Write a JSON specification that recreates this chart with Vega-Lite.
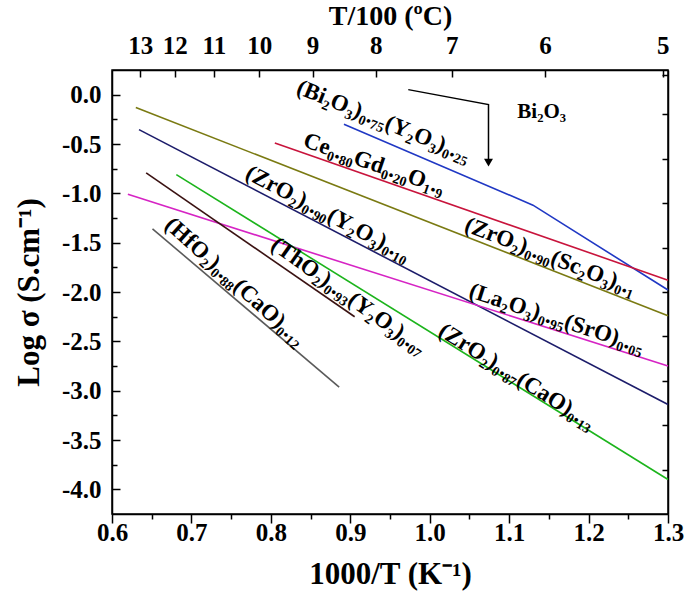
{
  "$schema": "https://vega.github.io/schema/vega-lite/v6.json",
  "width": 556,
  "height": 444,
  "autosize": {"type": "none"},
  "padding": {"left": 112, "top": 70, "right": 17, "bottom": 93},
  "background": "white",
  "config": {
    "view": {"stroke": "black", "strokeWidth": 1.5},
    "axis": {
      "labelFont": "Liberation Serif", "labelFontWeight": "bold", "labelFontSize": 25, "labelColor": "black",
      "titleFont": "Liberation Serif", "titleFontWeight": "bold", "titleFontSize": 31, "titleColor": "black",
      "domainColor": "black", "domainWidth": 1.5, "tickColor": "black", "tickWidth": 1.5, "grid": false
    },
    "text": {"font": "Liberation Serif", "fontWeight": "bold", "fontSize": 23, "color": "black"}
  },
  "datasets": {
    "lines": [
      {"s": "BiY", "o": 1, "x": 0.892, "y": -0.30},
      {"s": "BiY", "o": 2, "x": 1.13, "y": -1.12},
      {"s": "BiY", "o": 3, "x": 1.30, "y": -1.98},
      {"s": "CeGd", "o": 1, "x": 0.805, "y": -0.49},
      {"s": "CeGd", "o": 2, "x": 1.30, "y": -1.88},
      {"s": "ZrSc", "o": 1, "x": 0.630, "y": -0.13},
      {"s": "ZrSc", "o": 2, "x": 1.30, "y": -2.24},
      {"s": "ZrY", "o": 1, "x": 0.634, "y": -0.354},
      {"s": "ZrY", "o": 2, "x": 1.30, "y": -3.14},
      {"s": "LaSr", "o": 1, "x": 0.62, "y": -1.01},
      {"s": "LaSr", "o": 2, "x": 1.30, "y": -2.75},
      {"s": "ZrCa", "o": 1, "x": 0.681, "y": -0.81},
      {"s": "ZrCa", "o": 2, "x": 1.30, "y": -3.90},
      {"s": "ThY", "o": 1, "x": 0.643, "y": -0.793},
      {"s": "ThY", "o": 2, "x": 0.9055, "y": -2.251},
      {"s": "HfCa", "o": 1, "x": 0.651, "y": -1.36},
      {"s": "HfCa", "o": 2, "x": 0.886, "y": -2.964}
    ],
    "labels": [
      {"k": "BiY", "x": 0.942, "y": -0.268, "t": "(Bi₂O₃)₀.₇₅(Y₂O₃)₀.₂₅"},
      {"k": "CeGd", "x": 0.930, "y": -0.700, "t": "Ce₀.₈₀Gd₀.₂₀O₁.₉"},
      {"k": "ZrY", "x": 0.872, "y": -1.205, "t": "(ZrO₂)₀.₉₀(Y₂O₃)₀.₁₀"},
      {"k": "ZrSc", "x": 1.152, "y": -1.640, "t": "(ZrO₂)₀.₉₀(Sc₂O₃)₀.₁"},
      {"k": "LaSr", "x": 1.160, "y": -2.268, "t": "(La₂O₃)₀.₉₅(SrO)₀.₀₅"},
      {"k": "ZrCa", "x": 1.110, "y": -2.855, "t": "(ZrO₂)₀.₈₇(CaO)₀.₁₃"},
      {"k": "ThY", "x": 0.898, "y": -2.040, "t": "(ThO₂)₀.₉₃(Y₂O₃)₀.₀₇"},
      {"k": "HfCa", "x": 0.755, "y": -1.895, "t": "(HfO₂)₀.₈₈(CaO)₀.₁₂"},
      {"k": "Bi", "x": 1.141, "y": -0.172, "t": "Bi₂O₃"}
    ],
    "arrow": [
      {"o": 1, "x": 0.973, "y": 0.051},
      {"o": 2, "x": 1.074, "y": -0.101},
      {"o": 3, "x": 1.074, "y": -0.66}
    ],
    "head": [
      {"x": 1.074, "y": -0.69}
    ]
  },
  "resolve": {"axis": {"x": "independent", "y": "independent"}},
  "layer": [
    {
      "data": {"name": "lines"},
      "mark": {"type": "line", "strokeWidth": 1.6},
      "encoding": {
        "x": {"field": "x", "type": "quantitative",
          "scale": {"domain": [0.6, 1.3], "nice": false, "zero": false},
          "axis": {"orient": "bottom", "title": "1000/T (K⁻¹)",
            "values": [0.6,0.65,0.7,0.75,0.8,0.85,0.9,0.95,1.0,1.05,1.1,1.15,1.2,1.25,1.3],
            "labelExpr": "abs(datum.value*10 - round(datum.value*10)) < 0.01 ? format(datum.value, '.1f') : ''",
            "tickSize": {"condition": {"test": "abs(datum.value*10 - round(datum.value*10)) < 0.01", "value": 9}, "value": 5},
            "labelPadding": -3, "titlePadding": 14, "labelFlush": false, "labelOverlap": false}},
        "y": {"field": "y", "type": "quantitative",
          "scale": {"domain": [-4.25, 0.25], "nice": false, "zero": false},
          "axis": {"orient": "left", "title": "Log σ (S.cm⁻¹)",
            "values": [0.0,-0.25,-0.5,-0.75,-1.0,-1.25,-1.5,-1.75,-2.0,-2.25,-2.5,-2.75,-3.0,-3.25,-3.5,-3.75,-4.0],
            "labelExpr": "abs(datum.value*2 - round(datum.value*2)) < 0.01 ? replace(format(datum.value, '.1f'), '−', '-') : ''",
            "tickSize": {"condition": {"test": "abs(datum.value*2 - round(datum.value*2)) < 0.01", "value": -8}, "value": -5},
            "labelPadding": 19, "titlePadding": 16, "labelFlush": false, "labelOverlap": false}},
        "color": {"field": "s", "type": "nominal", "legend": null,
          "scale": {"domain": ["BiY","CeGd","ZrSc","ZrY","LaSr","ZrCa","ThY","HfCa"],
                    "range": ["#2038c4","#c8143c","#7a7a12","#1c1c6a","#d624c4","#1cb41c","#3a1212","#5a5a5a"]}},
        "order": {"field": "o", "type": "quantitative"}
      }
    },
    {
      "data": {"name": "labels"},
      "transform": [{"filter": "datum.k == 'Bi'"}],
      "mark": {"type": "text", "align": "center", "baseline": "middle", "fontSize": 21},
      "encoding": {
        "x": {"field": "x", "type": "quantitative",
          "axis": {"orient": "top", "title": "T/100 (ºC)", "titleFontSize": 28,
            "values": [0.6357, 0.6789, 0.7283, 0.7855, 0.8525, 0.9320, 1.0277, 1.1453, 1.2933],
            "labelExpr": "format(round((1000/datum.value - 273.15)/100), 'd')",
            "tickSize": -7, "labelPadding": 19, "titlePadding": 3, "labelFlush": false, "labelOverlap": false}},
        "y": {"field": "y", "type": "quantitative",
          "axis": {"orient": "right", "title": null, "labels": false,
            "values": [0.2, -0.2, -0.65, -1.1, -1.55, -2.0, -2.45, -2.9, -3.35, -3.8],
            "tickSize": -6}},
        "text": {"field": "t"}
      }
    },
    {
      "data": {"name": "labels"},
      "transform": [{"filter": "datum.k == 'BiY'"}],
      "mark": {"type": "text", "align": "center", "baseline": "middle", "angle": 22},
      "encoding": {"x": {"field": "x", "type": "quantitative", "axis": null}, "y": {"field": "y", "type": "quantitative", "axis": null}, "text": {"field": "t"}}
    },
    {
      "data": {"name": "labels"},
      "transform": [{"filter": "datum.k == 'CeGd'"}],
      "mark": {"type": "text", "align": "center", "baseline": "middle", "angle": 19},
      "encoding": {"x": {"field": "x", "type": "quantitative", "axis": null}, "y": {"field": "y", "type": "quantitative", "axis": null}, "text": {"field": "t"}}
    },
    {
      "data": {"name": "labels"},
      "transform": [{"filter": "datum.k == 'ZrY'"}],
      "mark": {"type": "text", "align": "center", "baseline": "middle", "angle": 27.5},
      "encoding": {"x": {"field": "x", "type": "quantitative", "axis": null}, "y": {"field": "y", "type": "quantitative", "axis": null}, "text": {"field": "t"}}
    },
    {
      "data": {"name": "labels"},
      "transform": [{"filter": "datum.k == 'ZrSc'"}],
      "mark": {"type": "text", "align": "center", "baseline": "middle", "angle": 21},
      "encoding": {"x": {"field": "x", "type": "quantitative", "axis": null}, "y": {"field": "y", "type": "quantitative", "axis": null}, "text": {"field": "t"}}
    },
    {
      "data": {"name": "labels"},
      "transform": [{"filter": "datum.k == 'LaSr'"}],
      "mark": {"type": "text", "align": "center", "baseline": "middle", "angle": 18},
      "encoding": {"x": {"field": "x", "type": "quantitative", "axis": null}, "y": {"field": "y", "type": "quantitative", "axis": null}, "text": {"field": "t"}}
    },
    {
      "data": {"name": "labels"},
      "transform": [{"filter": "datum.k == 'ZrCa'"}],
      "mark": {"type": "text", "align": "center", "baseline": "middle", "angle": 32},
      "encoding": {"x": {"field": "x", "type": "quantitative", "axis": null}, "y": {"field": "y", "type": "quantitative", "axis": null}, "text": {"field": "t"}}
    },
    {
      "data": {"name": "labels"},
      "transform": [{"filter": "datum.k == 'ThY'"}],
      "mark": {"type": "text", "align": "center", "baseline": "middle", "angle": 35.5},
      "encoding": {"x": {"field": "x", "type": "quantitative", "axis": null}, "y": {"field": "y", "type": "quantitative", "axis": null}, "text": {"field": "t"}}
    },
    {
      "data": {"name": "labels"},
      "transform": [{"filter": "datum.k == 'HfCa'"}],
      "mark": {"type": "text", "align": "center", "baseline": "middle", "angle": 42},
      "encoding": {"x": {"field": "x", "type": "quantitative", "axis": null}, "y": {"field": "y", "type": "quantitative", "axis": null}, "text": {"field": "t"}}
    },
    {
      "data": {"name": "arrow"},
      "mark": {"type": "line", "color": "black", "strokeWidth": 1.5},
      "encoding": {"x": {"field": "x", "type": "quantitative", "axis": null}, "y": {"field": "y", "type": "quantitative", "axis": null}, "order": {"field": "o", "type": "quantitative"}}
    },
    {
      "data": {"name": "head"},
      "mark": {"type": "point", "shape": "triangle-down", "filled": true, "color": "black", "size": 80, "opacity": 1},
      "encoding": {"x": {"field": "x", "type": "quantitative", "axis": null}, "y": {"field": "y", "type": "quantitative", "axis": null}}
    }
  ]
}
